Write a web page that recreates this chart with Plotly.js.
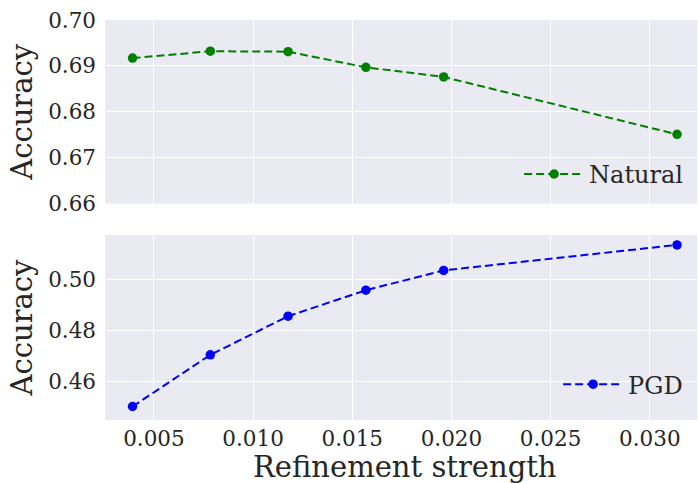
<!DOCTYPE html>
<html>
<head>
<meta charset="utf-8">
<script src="https://cdn.plot.ly/plotly-3.0.1.min.js"></script>
<style>html,body{margin:0;padding:0;overflow:hidden;background:#fff;}</style>
</head>
<body>
<div id="chart" style="width:698px;height:483px;"></div>
<script>
// Refinement strength (k/255)
const strength = [0.003922, 0.007843, 0.011765, 0.015686, 0.019608, 0.031373];
const naturalAcc = [0.6917, 0.6932, 0.6931, 0.6897, 0.6876, 0.6751];
const pgdAcc = [0.4500, 0.4703, 0.4855, 0.4957, 0.5035, 0.5135];
const seriesNames = ['Natural', 'PGD'];
const xTicks = [0.005, 0.010, 0.015, 0.020, 0.025, 0.030];
const xTickText = ['0.005', '0.010', '0.015', '0.020', '0.025', '0.030'];
const topTicks = [0.66, 0.67, 0.68, 0.69, 0.70];
const topTickText = ['0.66', '0.67', '0.68', '0.69', '0.70'];
const botTicks = [0.46, 0.48, 0.50];
const botTickText = ['0.46', '0.48', '0.50'];
const xTitle = 'Refinement strength';
const yTitle = 'Accuracy';

const FONT = 'DejaVu Serif, serif';
const TXT = '#262626';

const traces = [
  {x: strength, y: naturalAcc, name: seriesNames[0], xaxis: 'x2', yaxis: 'y2',
   mode: 'lines+markers', line: {color: 'green', width: 2, dash: '8px,4px'},
   marker: {color: 'green', size: 9.5}, legend: 'legend'},
  {x: strength, y: pgdAcc, name: seriesNames[1], xaxis: 'x', yaxis: 'y',
   mode: 'lines+markers', line: {color: 'blue', width: 2, dash: '8px,4px'},
   marker: {color: 'blue', size: 9.5}, legend: 'legend2'}
];

const xr = [0.002533, 0.03238];
const axisCommon = {
  showgrid: true, gridcolor: '#ffffff', gridwidth: 1, zeroline: false,
  showline: false, ticks: '', tickfont: {family: FONT, size: 21.5, color: TXT}
};

// plot area spans y=20..443 px (height 423)
const layout = {
  width: 698, height: 483,
  paper_bgcolor: '#ffffff', plot_bgcolor: '#EAEAF2',
  margin: {l: 105, r: 1, t: 20, b: 40},
  font: {family: FONT, color: TXT},
  xaxis: Object.assign({}, axisCommon, {
    range: xr, domain: [0, 1], anchor: 'y', tickvals: xTicks, ticktext: xTickText,
    ticklabelstandoff: 4
  }),
  yaxis: Object.assign({}, axisCommon, {
    range: [0.4447, 0.5174], domain: [0.0544, 0.4917], anchor: 'x',
    tickvals: botTicks, ticktext: botTickText, ticklabelstandoff: 8,
    title: {text: yTitle, font: {family: FONT, size: 29, color: TXT}, standoff: 6}
  }),
  xaxis2: Object.assign({}, axisCommon, {
    range: xr, domain: [0, 1], anchor: 'y2', matches: 'x', tickvals: xTicks, showticklabels: false
  }),
  yaxis2: Object.assign({}, axisCommon, {
    range: [0.66, 0.70], domain: [0.5657, 1], anchor: 'x2',
    tickvals: topTicks, ticktext: topTickText, ticklabelstandoff: 8,
    title: {text: yTitle, font: {family: FONT, size: 29, color: TXT}, standoff: 6}
  }),
  annotations: [
    {text: xTitle, xref: 'paper', yref: 'paper', x: 0.507, y: -0.057,
     xanchor: 'center', yanchor: 'middle', showarrow: false,
     font: {family: FONT, size: 29, color: TXT}}
  ],
  legend: {x: 0.985, y: 0.635, xanchor: 'right', yanchor: 'middle', bgcolor: 'rgba(0,0,0,0)',
           itemwidth: 60, font: {family: FONT, size: 24, color: TXT}},
  legend2: {x: 0.985, y: 0.138, xanchor: 'right', yanchor: 'middle', bgcolor: 'rgba(0,0,0,0)',
           itemwidth: 60, font: {family: FONT, size: 24, color: TXT}},
  showlegend: true
};

Plotly.newPlot('chart', traces, layout, {displayModeBar: false, staticPlot: true});
</script>
</body>
</html>
